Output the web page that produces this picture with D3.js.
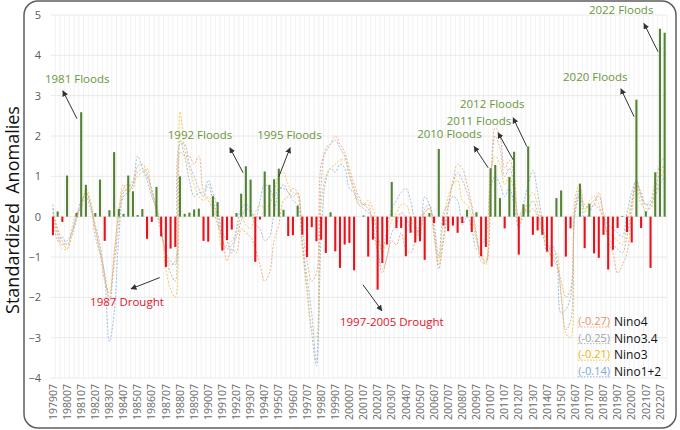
<!DOCTYPE html>
<html>
<head>
<meta charset="utf-8">
<script src="https://cdn.jsdelivr.net/npm/d3@7"></script>
<style>
  body { margin: 0; background: #fff; }
  svg text { font-family: "Open Sans", sans-serif; }
</style>
</head>
<body>
<div id="chart"></div>
<script>
// rainfall anomalies vs ENSO indices, 3 samples a year (Jul, Nov, Mar)
var periods = [
  "197907", "197911", "198003", "198007", "198011", "198103", "198107", "198111", "198203",
  "198207", "198211", "198303", "198307", "198311", "198403", "198407", "198411", "198503",
  "198507", "198511", "198603", "198607", "198611", "198703", "198707", "198711", "198803",
  "198807", "198811", "198903", "198907", "198911", "199003", "199007", "199011", "199103",
  "199107", "199111", "199203", "199207", "199211", "199303", "199307", "199311", "199403",
  "199407", "199411", "199503", "199507", "199511", "199603", "199607", "199611", "199703",
  "199707", "199711", "199803", "199807", "199811", "199903", "199907", "199911", "200003",
  "200007", "200011", "200103", "200107", "200111", "200203", "200207", "200211", "200303",
  "200307", "200311", "200403", "200407", "200411", "200503", "200507", "200511", "200603",
  "200607", "200611", "200703", "200707", "200711", "200803", "200807", "200811", "200903",
  "200907", "200911", "201003", "201007", "201011", "201103", "201107", "201111", "201203",
  "201207", "201211", "201303", "201307", "201311", "201403", "201407", "201411", "201503",
  "201507", "201511", "201603", "201607", "201611", "201703", "201707", "201711", "201803",
  "201807", "201811", "201903", "201907", "201911", "202003", "202007", "202011", "202103",
  "202107", "202111", "202203", "202207", "202211"
];

var tick_labels = [
  "197907", "198007", "198107", "198207", "198307", "198407", "198507", "198607", "198707",
  "198807", "198907", "199007", "199107", "199207", "199307", "199407", "199507", "199607",
  "199707", "199807", "199907", "200007", "200107", "200207", "200307", "200407", "200507",
  "200607", "200707", "200807", "200907", "201007", "201107", "201207", "201307", "201407",
  "201507", "201607", "201707", "201807", "201907", "202007", "202107", "202207"
];

var y_ticks = [5, 4, 3, 2, 1, 0, -1, -2, -3, -4];

// standardized rainfall anomalies (bars)
var anomaly = [
  -0.46, 0.13, -0.13,  1.02, 0, 0.09,  2.59, 0.79, 0,
  0.09, 0.92, -0.6,  0.16, 1.6, 0.19,  0.07, 1.02, 0.63,
  0.04, 0.19, -0.55,  -0.13, 0.74, -0.49,  -1.25, -0.79, -0.75,
  1.0, 0.07, 0.1,  0.18, 0.2, -0.6,  -0.62, 0.51, 0.36,
  -0.84, -0.58, -0.32,  0.09, 0.57, 1.25,  0.92, -1.12, -0.07,
  1.12, 0.79, 0.93,  1.19, 0.17, -0.48,  -0.46, 0.27, -0.45,
  -1.0, -0.26, -0.61,  -0.57, -0.9, 0.11,  -0.86, -1.27, -0.69,
  -0.65, -1.33, 0,  0.03, -0.99, -0.57,  -1.81, -1.15, -0.69,
  0.86, -0.28, -0.28,  -0.98, -0.4, -0.64,  -0.61, -1.07, 0.09,
  -0.16, 1.68, -0.22,  -0.36, -0.22, -0.4,  -0.16, 0.17, -0.38,
  0.11, -0.98, -0.75,  1.2, 1.28, 0.46,  -0.29, 0.98, 1.61,
  -0.94, 0.31, 1.74,  -0.45, -0.34, -0.45,  -0.86, -1.24, 0.46,
  0.65, -0.99, -0.29,  0, 0.82, -0.78,  0.32, -0.91, -1.02,
  -0.45, -1.31, -0.82,  -0.28, 0.02, -0.38,  -0.64, 2.9, -0.28,
  0.13, -1.27, 1.1,  4.66, 4.56
];

// ENSO indices, standardized and sign flipped (dotted lines)
var nino4 = [
  0.1, -0.3, -0.6,  -0.8, -0.5, -0.1,  0.3, 0.6, 0.3,
  -0.3, -0.9, -1.6,  -1.9, -0.9, 0.1,  0.7, 0.8, 0.7,
  1.25, 1.3, 1.1,  0.6, 0.1, -0.4,  -0.9, -1.2, -1.1,
  1.6, 1.5, 1.5,  1.3, 1.5, 0.6,  0.4, 0.2, -0.2,
  -0.5, -1.1, -0.8,  -0.9, -0.3, -0.4,  -0.5, -0.8, -1.2,
  -1.6, -1.4, -0.6,  -0.2, 0.4, 0.5,  0.7, 0.6, -0.3,
  -1.1, -1.6, -1.4,  1.3, 1.6, 1.8,  2.0, 1.8, 1.6,
  1.2, 0.8, 0.5,  0.3, 0.3, -0.3,  -0.9, -1.4, -1.0,
  -0.6, -0.7, -0.4,  -0.8, -0.9, -0.6,  -0.2, 0.1, 0.2,
  -0.5, -1.2, -0.6,  0.2, 0.9, 1.3,  1.2, 0.8, 0.3,
  -0.4, -1.1, -1.15,  0.6, 2.2, 2.0,  1.2, 1.4, 1.0,
  0.0, 0.2, 0.1,  0.2, 0.0, -0.4,  -0.8, -1.0, -1.2,
  -1.6, -2.0, -1.8,  0.2, 0.5, 0.3,  0.2, 0.3, 0.6,
  0.1, -0.6, -0.9,  -1.4, -1.2, -0.9,  0.1, 0.8, 0.6,
  0.3, 0.4, 0.9,  1.3, 1.5
];

var nino34 = [
  0.2, -0.4, -0.7,  -0.6, -0.4, 0.0,  0.3, 0.6, 0.3,
  -0.5, -0.9, -1.4,  -2.1, -1.2, -0.1,  0.6, 0.7, 0.9,
  1.1, 1.2, 1.0,  0.7, 0.2, -0.3,  -1.0, -1.4, -1.6,
  1.8, 1.8, 1.3,  1.0, 0.7, 0.5,  0.8, 0.4, 0.0,
  -0.6, -0.8, -0.7,  -0.5, -0.1, 0.2,  0.1, -0.2, -0.3,
  -0.6, -0.5, 0.1,  0.6, 0.8, 0.6,  0.5, 0.6, -0.6,
  -1.5, -2.4, -3.6,  0.8, 1.7, 1.8,  1.9, 1.7, 1.5,
  1.0, 0.7, 0.4,  0.3, 0.2, -0.2,  -0.8, -1.3, -1.0,
  -0.4, -0.2, 0.1,  0.0, -0.3, -0.4,  -0.3, 0.2, 0.3,
  -0.4, -1.3, -0.5,  0.3, 0.8, 1.1,  0.9, 0.6, 0.2,
  -0.5, -1.0, -1.1,  0.8, 2.0, 1.7,  1.0, 1.2, 0.8,
  -0.1, 0.1, 0.2,  0.4, 0.1, -0.3,  -0.6, -0.9, -1.1,
  -1.9, -2.8, -2.6,  0.3, 0.7, 0.2,  0.3, 0.4, 0.5,
  0.0, -0.5, -0.7,  -0.8, -0.9, -0.5,  0.3, 0.9, 0.5,
  0.3, 0.3, 0.7,  1.1, 1.3
];

var nino3 = [
  0.1, -0.5, -0.8,  -0.8, -0.3, 0.1,  0.2, 0.7, 0.4,
  -0.3, -0.8, -1.5,  -2.0, -1.0, 0.2,  0.8, 0.6, 0.8,
  1.0, 1.1, 1.2,  0.6, 0.3, -0.3,  -1.3, -1.8, -2.0,
  2.6, 1.7, 1.2,  0.8, 0.5, 0.4,  0.5, 0.3, -0.1,
  -0.8, -0.7, -0.6,  -0.4, 0.0, -0.2,  -0.3, 0.1, 0.3,
  0.2, 0.3, 0.6,  1.0, 1.1, 0.8,  0.6, 0.5, -0.8,
  -1.9, -2.8, -3.0,  0.3, 1.0, 1.2,  1.3, 1.4, 1.4,
  1.1, 0.6, 0.3,  0.3, 0.4, 0.2,  -0.4, -0.9, -0.5,
  -0.1, 0.1, 0.3,  0.3, 0.0, -0.3,  -0.4, 0.1, 0.2,
  -0.3, -1.1, -0.1,  0.5, 0.8, 0.9,  0.4, 0.3, 0.0,
  -0.6, -0.9, -1.2,  1.1, 1.5, 1.3,  0.8, 1.0, 0.6,
  -0.2, 0.0, 0.4,  0.6, 0.3, -0.2,  -0.7, -1.0, -0.9,
  -2.0, -2.9, -3.0,  0.5, 0.8, 0.1,  0.4, 0.5, 0.3,
  -0.1, -0.4, -0.5,  -0.6, -0.7, -0.2,  0.4, 0.8, 0.3,
  0.2, 0.2, 0.6,  0.9, 1.2
];

var nino12 = [
  0.3, -0.6, -0.5,  -0.7, -0.4, 0.0,  0.4, 0.5, 0.2,
  -0.2, -0.7, -1.5,  -3.1, -2.4, -0.5,  0.5, 0.6, 0.8,
  1.5, 1.2, 0.9,  0.5, 0.2, -0.3,  -0.9, -1.1, -1.2,
  1.9, 1.5, 0.9,  0.5, 0.6, 0.6,  0.9, 0.6, 0.2,
  -0.4, -0.6, -0.9,  -0.3, 0.2, 0.3,  0.2, -0.1, 0.4,
  0.8, 0.7, 0.5,  0.7, 0.7, 0.6,  0.4, 0.3, -0.7,
  -1.8, -2.9, -3.7,  -0.5, 0.9, 1.2,  1.1, 1.3, 1.2,
  0.7, 0.6, 0.3,  0.2, 0.1, 0.0,  -0.5, -0.8, -0.3,
  0.2, 0.4, 0.6,  0.7, 0.4, -0.2,  -0.5, 0.5, 0.3,
  -0.2, -1.0, 0.1,  0.3, 0.5, 0.4,  -0.2, 0.0, -0.3,
  -0.8, -0.7, -0.5,  0.7, 1.0, 0.8,  0.5, 0.7, 0.3,
  -0.3, 0.3, 0.8,  1.15, 0.6, -0.1,  -0.9, -0.7, -1.0,
  -2.4, -2.3, -2.0,  0.1, 0.6, -0.1,  0.1, 0.3, 0.2,
  0.0, -0.2, -0.3,  -0.4, -0.5, 0.1,  0.6, 0.9, 0.5,
  0.1, 0.3, 0.5,  0.8, 1.0
];

var series_names = ["Nino4", "Nino3.4", "Nino3", "Nino1+2"];
var series_corr = ["(-0.27)", "(-0.25)", "(-0.21)", "(-0.14)"];
var series_colors = ["#efa878", "#b3b3c4", "#f3c947", "#93b8e2"];
var corr_colors = ["#e3935f", "#a3a3a8", "#e8b400", "#7ea6d8"];

// event labels: text, where the text sits and the arrow (in period index / anomaly units)
var events = [
  { text: "1981 Floods", kind: "flood", tx: -1.7, ty: 3.32, from: [5.1, 2.43], to: [2.1, 3.12] },
  { text: "1992 Floods", kind: "flood", tx: 24.4, ty: 1.93, from: [40.4, 1.09], to: [37.6, 1.71] },
  { text: "1995 Floods", kind: "flood", tx: 43.4, ty: 1.93, from: [48.0, 0.99], to: [50.4, 1.71] },
  { text: "1987 Drought", kind: "drought", tx: 7.9, ty: -2.21, from: [22.7, -1.51], to: [16.6, -1.79] },
  { text: "1997-2005 Drought", kind: "drought", tx: 61.0, ty: -2.7, from: [65.9, -1.69], to: [69.9, -2.33] },
  { text: "2010 Floods", kind: "flood", tx: 77.4, ty: 1.96, from: [92.5, 1.21], to: [89.5, 1.74] },
  { text: "2011 Floods", kind: "flood", tx: 83.7, ty: 2.28, from: [97.8, 1.41], to: [94.6, 2.08] },
  { text: "2012 Floods", kind: "flood", tx: 86.5, ty: 2.7, from: [100.7, 1.74], to: [97.8, 2.45] },
  { text: "2020 Floods", kind: "flood", tx: 108.4, ty: 3.37, from: [123.5, 2.48], to: [120.7, 3.17] },
  { text: "2022 Floods", kind: "flood", tx: 113.9, ty: 5.03, from: [128.6, 4.09], to: [125.6, 4.79] }
];

window.onload = function () {
  var width = 680;
  var height = 430;

  var svg = d3
    .select("#chart")
    .append("svg")
    .attr("width", width)
    .attr("height", height);

  // frame round the chart
  svg
    .append("rect")
    .attr("x", 24)
    .attr("y", 1)
    .attr("width", 652)
    .attr("height", 427)
    .attr("rx", 14)
    .attr("fill", "none")
    .attr("stroke", "#5e5e5e")
    .attr("stroke-width", 1.5);

  var x = d3.scaleBand().domain(periods).range([50.6, 667]);
  var y = d3.scaleLinear().domain([-4, 5]).range([378, 15]);
  var bw = x.bandwidth();
  // continuous index scale, for the annotations
  var xi = d3
    .scaleLinear()
    .domain([0, periods.length - 1])
    .range([x(periods[0]) + bw / 2, x(periods[periods.length - 1]) + bw / 2]);

  // grid
  var grid = svg.append("g");
  grid
    .selectAll("line.v")
    .data(periods)
    .enter()
    .append("line")
    .attr("x1", (d) => x(d) + bw)
    .attr("x2", (d) => x(d) + bw)
    .attr("y1", y(5))
    .attr("y2", y(-4))
    .attr("stroke", "#eeeeee")
    .attr("stroke-width", 0.8);
  grid
    .selectAll("line.h")
    .data(y_ticks)
    .enter()
    .append("line")
    .attr("x1", 50.6)
    .attr("x2", 667)
    .attr("y1", (d) => y(d))
    .attr("y2", (d) => y(d))
    .attr("stroke", "#e4e4e4")
    .attr("stroke-width", 0.8);

  // y axis
  var yAxis = svg
    .append("g")
    .attr("transform", "translate(41,0)")
    .call(d3.axisLeft(y).tickValues(y_ticks).tickSize(0).tickPadding(0));
  yAxis.select(".domain").remove();
  yAxis
    .selectAll("text")
    .style("font-family", '"Open Sans", sans-serif')
    .style("font-size", "11px")
    .attr("fill", "#595959");

  // x axis labels, rotated
  var xAxis = svg
    .append("g")
    .attr("transform", "translate(0,384)")
    .call(d3.axisBottom(x).tickValues(tick_labels).tickSize(0).tickPadding(0));
  xAxis.select(".domain").remove();
  xAxis
    .selectAll("text")
    .attr("transform", "rotate(-90)")
    .attr("x", 0)
    .attr("y", 0)
    .attr("dy", "0.35em")
    .style("text-anchor", "end")
    .style("font-family", '"Open Sans", sans-serif')
    .style("font-size", "10.5px")
    .attr("fill", "#6a6a6a");

  // axis title
  svg
    .append("text")
    .attr("transform", "translate(19,210) rotate(-90)")
    .style("text-anchor", "middle")
    .style("font-size", "18px")
    .style("white-space", "pre")
    .attr("fill", "#111")
    .text("Standardized  Anomalies");

  // enso lines
  var all_series = [nino4, nino34, nino3, nino12];
  var line = d3
    .line()
    .x((d, i) => x(periods[i]) + bw / 2)
    .y((d) => y(d))
    .curve(d3.curveCatmullRom);
  for (var s = all_series.length - 1; s >= 0; s--) {
    svg
      .append("path")
      .datum(all_series[s])
      .attr("fill", "none")
      .attr("stroke", series_colors[s])
      .attr("stroke-width", 1)
      .attr("stroke-dasharray", "2,1.6")
      .attr("opacity", 0.9)
      .attr("d", line);
  }

  // bars
  svg
    .append("g")
    .selectAll("rect")
    .data(anomaly)
    .enter()
    .append("rect")
    .attr("x", (d, i) => x(periods[i]) + bw / 2 - 1.05)
    .attr("width", 2.1)
    .attr("y", (d) => y(Math.max(0, d)))
    .attr("height", (d) => Math.abs(y(d) - y(0)))
    .attr("fill", (d) => (d >= 0 ? "#548235" : "#e8121c"));

  // arrows + event labels
  svg
    .append("defs")
    .append("marker")
    .attr("id", "head")
    .attr("viewBox", "0 0 10 10")
    .attr("refX", 9)
    .attr("refY", 5)
    .attr("markerWidth", 6)
    .attr("markerHeight", 6)
    .attr("markerUnits", "userSpaceOnUse")
    .attr("orient", "auto")
    .append("path")
    .attr("d", "M0,0 L10,5 L0,10 z")
    .attr("fill", "#333");

  var notes = svg.append("g");
  events.forEach(function (ev) {
    notes
      .append("line")
      .attr("x1", xi(ev.from[0]))
      .attr("y1", y(ev.from[1]))
      .attr("x2", xi(ev.to[0]))
      .attr("y2", y(ev.to[1]))
      .attr("stroke", "#333")
      .attr("stroke-width", 1)
      .attr("marker-end", "url(#head)");
    notes
      .append("text")
      .attr("x", xi(ev.tx))
      .attr("y", y(ev.ty))
      .style("font-size", "11.5px")
      .attr("fill", ev.kind == "flood" ? "#6a9640" : "#e0142a")
      .text(ev.text);
  });

  // legend
  var legend = svg.append("g");
  for (var k = 0; k < series_names.length; k++) {
    var ly = 325 + k * 16.6;
    legend
      .append("line")
      .attr("x1", 578)
      .attr("x2", 610)
      .attr("y1", ly + 2)
      .attr("y2", ly + 2)
      .attr("stroke", series_colors[k])
      .attr("stroke-width", 1)
      .attr("stroke-dasharray", "1.5,1.5");
    legend
      .append("text")
      .attr("x", 610)
      .attr("y", ly)
      .style("text-anchor", "end")
      .style("font-size", "11px")
      .attr("fill", corr_colors[k])
      .text(series_corr[k]);
    legend
      .append("text")
      .attr("x", 614)
      .attr("y", ly + 1)
      .style("font-size", "12px")
      .attr("fill", "#111")
      .text(series_names[k]);
  }
};
</script>
</body>
</html>
